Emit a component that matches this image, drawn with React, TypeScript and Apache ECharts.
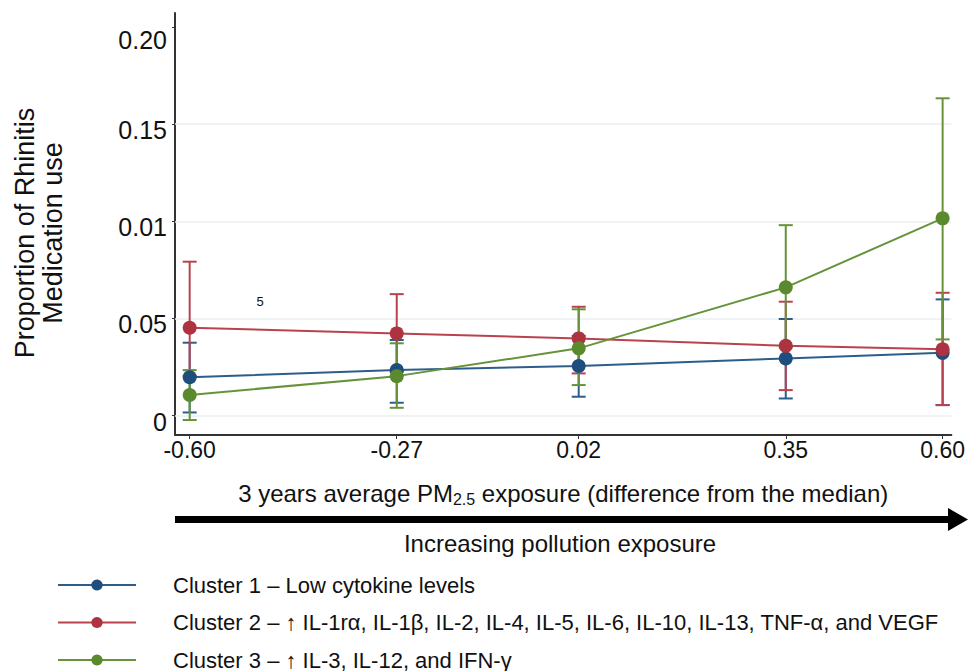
import React, { useEffect, useRef } from "react";
import * as echarts from "echarts";

// ---- data ----
const xValues = [-0.6, -0.27, 0.02, 0.35, 0.6];
const xTickLabels = ["-0.60", "-0.27", "0.02", "0.35", "0.60"];
const yTickValues = [0, 0.05, 0.1, 0.15, 0.2];
const yTickLabels = ["0", "0.05", "0.01", "0.15", "0.20"];
const gridValues = [0, 0.05, 0.1, 0.15];

const seriesNames = [
  "Cluster 1 – Low cytokine levels",
  "Cluster 2 – ↑ IL-1rα, IL-1β, IL-2, IL-4, IL-5, IL-6, IL-10, IL-13, TNF-α, and VEGF",
  "Cluster 3 – ↑ IL-3, IL-12, and IFN-γ",
];

const cluster1Mean = [0.0197, 0.0234, 0.0255, 0.0294, 0.0323];
const cluster1Low = [0.0016, 0.0066, 0.0097, 0.0088, 0.0054];
const cluster1High = [0.0375, 0.0389, 0.041, 0.0497, 0.0598];

const cluster2Mean = [0.0452, 0.0423, 0.0397, 0.0359, 0.0341];
const cluster2Low = [0.0205, 0.0225, 0.0217, 0.0131, 0.0054];
const cluster2High = [0.0792, 0.0625, 0.056, 0.0586, 0.0632];

const cluster3Mean = [0.0106, 0.0203, 0.0346, 0.066, 0.1015];
const cluster3Low = [-0.0023, 0.004, 0.0157, 0.035, 0.0392];
const cluster3High = [0.0234, 0.0372, 0.0547, 0.098, 0.1633];

const annotationText = "5";

// ---- styles ----
const markerColors = ["#1d4e7d", "#ad3340", "#5a8a2d"];
const lineColors = ["#2d5d8c", "#b8434f", "#66933a"];
const FONT = '"Liberation Sans", Arial, sans-serif';
const NARROW = '"Liberation Sans Narrow", "Liberation Sans", Arial, sans-serif';

export default function App() {
  const ref = useRef<HTMLDivElement>(null);

  useEffect(() => {
    document.body.style.margin = "0";
    const chart = echarts.init(ref.current!, undefined, { renderer: "svg" });

    const means = [cluster1Mean, cluster2Mean, cluster3Mean];
    const lows = [cluster1Low, cluster2Low, cluster3Low];
    const highs = [cluster1High, cluster2High, cluster3High];

    const errorSeries = means.map((_, i) => ({
      type: "custom",
      name: seriesNames[i] + " CI",
      silent: true,
      z: 2 + i,
      data: xValues.map((x, j) => [x, lows[i][j], highs[i][j]]),
      encode: { x: 0, y: [1, 2] },
      renderItem: (params: any, api: any) => {
        const x = api.value(0);
        const lo = api.coord([x, api.value(1)]);
        const hi = api.coord([x, api.value(2)]);
        const w = 7;
        const style = { stroke: lineColors[i], lineWidth: 2 };
        return {
          type: "group",
          children: [
            { type: "line", shape: { x1: lo[0], y1: lo[1], x2: hi[0], y2: hi[1] }, style },
            { type: "line", shape: { x1: hi[0] - w, y1: hi[1], x2: hi[0] + w, y2: hi[1] }, style },
            { type: "line", shape: { x1: lo[0] - w, y1: lo[1], x2: lo[0] + w, y2: lo[1] }, style },
          ],
        };
      },
    }));

    const lineSeries = means.map((m, i) => ({
      type: "line",
      name: seriesNames[i],
      z: 10 + i,
      data: xValues.map((x, j) => [x, m[j]]),
      symbol: "circle",
      symbolSize: 14,
      showSymbol: true,
      lineStyle: { color: lineColors[i], width: 2 },
      itemStyle: { color: markerColors[i] },
      ...(i === 0
        ? {
            markLine: {
              silent: true,
              symbol: "none",
              label: { show: false },
              lineStyle: { color: "#e8eff2", width: 1.5, type: "solid" },
              data: gridValues.map((v) => ({ yAxis: v })),
              z: 1,
            },
          }
        : {}),
    }));

    chart.setOption({
      animation: false,
      grid: { left: 175, right: 0, top: 13, bottom: 236, containLabel: false },
      xAxis: {
        type: "value",
        min: -0.6234,
        max: 0.614,
        axisLine: { show: true, onZero: false, lineStyle: { color: "#333", width: 2 } },
        axisTick: { show: true, length: 4, customValues: xValues, lineStyle: { color: "#333" } },
        axisLabel: {
          customValues: xValues,
          formatter: (v: number) => {
            const k = xValues.findIndex((t) => Math.abs(t - v) < 1e-9);
            return k >= 0 ? xTickLabels[k] : "";
          },
          color: "#111",
          fontSize: 23,
          fontFamily: NARROW,
          margin: 3,
        },
        splitLine: { show: false },
        name: "{a|3 years average PM}{s|2.5}{a| exposure (difference from the median)}",
        nameLocation: "middle",
        nameGap: 44,
        nameTextStyle: {
          rich: {
            a: { fontSize: 24, fontFamily: NARROW, color: "#111" },
            s: { fontSize: 16, fontFamily: NARROW, color: "#111", padding: [12, 0, 0, 0] },
          },
        },
      },
      yAxis: {
        type: "value",
        min: -0.01,
        max: 0.2072,
        axisLine: { show: true, onZero: false, lineStyle: { color: "#333", width: 2 } },
        axisTick: { show: true, length: 3, customValues: yTickValues, lineStyle: { color: "#333" } },
        axisLabel: {
          customValues: yTickValues,
          formatter: (v: number) => {
            const k = yTickValues.findIndex((t) => Math.abs(t - v) < 1e-9);
            if (k < 0) return "";
            return k === yTickValues.length - 1 ? `{t|${yTickLabels[k]}}` : `{n|${yTickLabels[k]}}`;
          },
          color: "#111",
          fontSize: 25,
          fontFamily: FONT,
          margin: 8,
          verticalAlign: "top",
          rich: {
            n: { fontSize: 25, fontFamily: FONT, color: "#111", lineHeight: 12 },
            t: { fontSize: 25, fontFamily: FONT, color: "#111", lineHeight: 26 },
          },
        },
        splitLine: { show: false },
      },
      legend: {
        data: seriesNames,
        orient: "vertical",
        left: 57,
        top: 574,
        height: 300,
        padding: 0,
        itemWidth: 78,
        itemHeight: 14,
        itemGap: 15.5,
        selectedMode: false,
        textStyle: {
          color: "#111",
          fontSize: 22,
          lineHeight: 20,
          fontFamily: NARROW,
          padding: [0, 0, 0, 32],
        },
      },
      graphic: [
        {
          type: "text",
          x: 39,
          y: 233,
          rotation: Math.PI / 2,
          style: {
            text: "Proportion of Rhinitis\nMedication use",
            font: `27px ${FONT}`,
            fill: "#111",
            textAlign: "center",
            textVerticalAlign: "middle",
            lineHeight: 28,
          },
        },
        {
          type: "text",
          x: 260,
          y: 301,
          style: { text: annotationText, font: `13px ${FONT}`, fill: "#111", textAlign: "center", textVerticalAlign: "middle" },
        },
        {
          type: "rect",
          shape: { x: 175, y: 516, width: 778, height: 7 },
          style: { fill: "#000" },
        },
        {
          type: "polygon",
          shape: { points: [[948, 508], [968, 519.5], [948, 531]] },
          style: { fill: "#000" },
        },
        {
          type: "text",
          x: 560,
          y: 543,
          style: {
            text: "Increasing pollution exposure",
            font: `24px ${NARROW}`,
            fill: "#111",
            textAlign: "center",
            textVerticalAlign: "middle",
          },
        },
      ],
      series: [...errorSeries, ...lineSeries],
    });

    return () => chart.dispose();
  }, []);

  return <div ref={ref} style={{ width: 968, height: 671 }} />;
}
